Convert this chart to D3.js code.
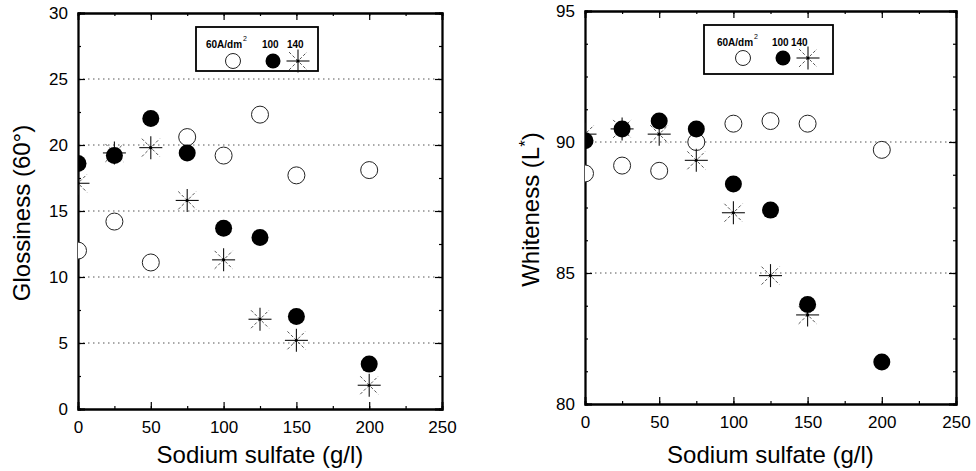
<!DOCTYPE html>
<html><head><meta charset="utf-8">
<script src="https://cdn.jsdelivr.net/npm/d3@7"></script>
<style>body{margin:0;background:#fff;} svg{display:block;font-family:"Liberation Sans",Arial,sans-serif;}</style>
</head><body>
<svg id="c" width="976" height="471"></svg>
<script>
const sulfate = [0, 25, 50, 75, 100, 125, 150, 200];
const gloss60 = [12.0, 14.2, 11.1, 20.6, 19.2, 22.3, 17.7, 18.1];
const gloss100 = [18.6, 19.2, 22.0, 19.4, 13.7, 13.0, 7.0, 3.4];
const gloss140 = [17.1, 19.4, 19.8, 15.8, 11.3, 6.8, 5.2, 1.8];
const white60 = [88.8, 89.1, 88.9, 90.0, 90.7, 90.8, 90.7, 89.7];
const white100 = [90.05, 90.5, 90.8, 90.5, 88.4, 87.4, 83.8, 81.6];
const white140 = [90.3, 90.5, 90.3, 89.3, 87.3, 84.9, 83.4, null];
const xTicks = [0, 50, 100, 150, 200, 250];
const glossTicks = [0, 5, 10, 15, 20, 25, 30];
const whiteTicks = [80, 85, 90, 95];
const legendLabels = ["60A/dm", "100", "140"];

const svg = d3.select("#c");

function panel(opts) {
  const {x0, x1, yTop, yBot, yDomain, yTicks, yMinor, s60, s100, s140, yTitle, id, legend} = opts;
  const x = d3.scaleLinear().domain([0, 250]).range([x0, x1]);
  const y = d3.scaleLinear().domain(yDomain).range([yBot, yTop]);
  const g = svg.append("g");
  g.append("clipPath").attr("id", id).append("rect")
    .attr("x", x0).attr("y", yTop).attr("width", x1 - x0).attr("height", yBot - yTop);

  g.selectAll(".grid").data(yTicks.slice(1, -1)).enter().append("line")
    .attr("x1", x0).attr("x2", x1).attr("y1", d => y(d)).attr("y2", d => y(d))
    .attr("stroke", "#555").attr("stroke-width", 1).attr("stroke-dasharray", "1.5,3.5");

  const xMinor = d3.range(0, 251, 25);
  const axB = d3.axisBottom(x).tickValues(xTicks).tickSize(-7).tickPadding(12).tickFormat(d3.format("d"));
  const gb = g.append("g").attr("transform", `translate(0,${yBot})`).call(axB);
  const axL = d3.axisLeft(y).tickValues(yTicks).tickSize(-7).tickPadding(10).tickFormat(d3.format("d"));
  const gl = g.append("g").attr("transform", `translate(${x0},0)`).call(axL);
  g.append("g").attr("transform", `translate(0,${yTop})`).call(d3.axisTop(x).tickValues(xTicks).tickSize(-7).tickFormat(""));
  g.append("g").attr("transform", `translate(${x1},0)`).call(d3.axisRight(y).tickValues(yTicks).tickSize(-7).tickFormat(""));
  g.append("g").attr("transform", `translate(0,${yBot})`).call(d3.axisBottom(x).tickValues(xMinor).tickSize(-3).tickFormat(""));
  g.append("g").attr("transform", `translate(0,${yTop})`).call(d3.axisTop(x).tickValues(xMinor).tickSize(-3).tickFormat(""));
  g.append("g").attr("transform", `translate(${x0},0)`).call(d3.axisLeft(y).tickValues(yMinor).tickSize(-3).tickFormat(""));
  g.append("g").attr("transform", `translate(${x1},0)`).call(d3.axisRight(y).tickValues(yMinor).tickSize(-3).tickFormat(""));
  g.selectAll(".domain").attr("stroke", "#000").attr("stroke-width", 1.8);
  g.selectAll(".tick line").attr("stroke", "#000").attr("stroke-width", 1.2);
  [gb, gl].forEach(a => a.selectAll("text").attr("font-size", 17).attr("fill", "#000")
    .attr("font-family", "'Liberation Sans',Arial,sans-serif"));
  gb.selectAll("text").attr("dy", "0.71em");

  const pts = g.append("g").attr("clip-path", `url(#${id})`);
  const d60 = sulfate.map((s, i) => ({s, v: s60[i]})).filter(d => d.v != null);
  const d100 = sulfate.map((s, i) => ({s, v: s100[i]})).filter(d => d.v != null);
  const d140 = sulfate.map((s, i) => ({s, v: s140[i]})).filter(d => d.v != null);
  pts.selectAll(".o").data(d60).enter().append("circle")
    .attr("cx", d => x(d.s)).attr("cy", d => y(d.v)).attr("r", 8.5)
    .attr("fill", "#fff").attr("stroke", "#222").attr("stroke-width", 1);
  d140.forEach(d => drawStar(pts, x(d.s), y(d.v)));
  pts.selectAll(".f").data(d100).enter().append("circle")
    .attr("cx", d => x(d.s)).attr("cy", d => y(d.v)).attr("r", 8.5)
    .attr("fill", "#000");

  const L = legend;
  g.append("rect").attr("x", L.x).attr("y", L.y).attr("width", L.w).attr("height", L.h)
    .attr("fill", "#fff").attr("stroke", "#000").attr("stroke-width", 1.8);
  const lf = "'Liberation Sans',Arial,sans-serif";
  [0, 1, 2].forEach(i => {
    g.append("text").attr("x", L.tx[i]).attr("y", L.ty).attr("font-size", 10).attr("font-weight", "bold")
      .attr("font-family", lf).text(legendLabels[i]);
  });
  g.append("text").attr("x", L.sx).attr("y", L.ty - 7).attr("font-size", 7)
    .attr("font-family", lf).text("2");
  g.append("circle").attr("cx", L.mx[0]).attr("cy", L.my).attr("r", 7.5).attr("fill", "#fff").attr("stroke", "#222");
  g.append("circle").attr("cx", L.mx[1]).attr("cy", L.my).attr("r", 7.5).attr("fill", "#000");
  drawStar(g, L.mx[2], L.my);

  g.append("text").attr("x", (x0 + x1) / 2).attr("y", 463).attr("text-anchor", "middle")
    .attr("font-size", 24).text("Sodium sulfate (g/l)");
  const yt = g.append("text").attr("transform", `translate(${opts.yTitleX},${(yTop + yBot) / 2 + 2}) rotate(-90)`)
    .attr("text-anchor", "middle").attr("font-size", 24);
  yTitle(yt);
}

function drawStar(sel, cx, cy) {
  const r = 11.5;
  const gg = sel.append("g");
  gg.append("line").attr("x1", cx - r).attr("x2", cx + r).attr("y1", cy).attr("y2", cy)
    .attr("stroke", "#111").attr("stroke-width", 1.1);
  gg.append("line").attr("x1", cx).attr("x2", cx).attr("y1", cy - r).attr("y2", cy + r)
    .attr("stroke", "#111").attr("stroke-width", 1.1);
  const d = r * 0.78;
  gg.append("line").attr("x1", cx - d).attr("x2", cx + d).attr("y1", cy - d).attr("y2", cy + d)
    .attr("stroke", "#555").attr("stroke-width", 1).attr("stroke-dasharray", "3,2");
  gg.append("line").attr("x1", cx - d).attr("x2", cx + d).attr("y1", cy + d).attr("y2", cy - d)
    .attr("stroke", "#555").attr("stroke-width", 1).attr("stroke-dasharray", "3,2");
  gg.append("circle").attr("cx", cx).attr("cy", cy).attr("r", 1.6).attr("fill", "#000");
}

panel({
  id: "clipL", x0: 78, x1: 442, yTop: 13, yBot: 409, yDomain: [0, 30],
  yTicks: glossTicks, yMinor: d3.range(0, 30.1, 2.5),
  s60: gloss60, s100: gloss100, s140: gloss140, yTitleX: 30,
  yTitle: t => { t.text("Glossiness (60°)"); },
  legend: {x: 196, y: 27, w: 122, h: 44, ty: 48, tx: [206, 262, 287], sx: 243, mx: [233, 273, 298], my: 61}
});
panel({
  id: "clipR", x0: 585, x1: 956, yTop: 11, yBot: 404, yDomain: [80, 95],
  yTicks: whiteTicks, yMinor: d3.range(80, 95.1, 1.25),
  s60: white60, s100: white100, s140: white140, yTitleX: 539,
  yTitle: t => { t.append("tspan").text("Whiteness (L"); t.append("tspan").attr("dy", -8).attr("font-size", 17).text("*");
                 t.append("tspan").attr("dy", 8).text(")"); },
  legend: {x: 704, y: 25, w: 129, h: 49, ty: 46, tx: [717, 772, 791], sx: 754, mx: [743, 783, 808], my: 58}
});
</script>
</body></html>
